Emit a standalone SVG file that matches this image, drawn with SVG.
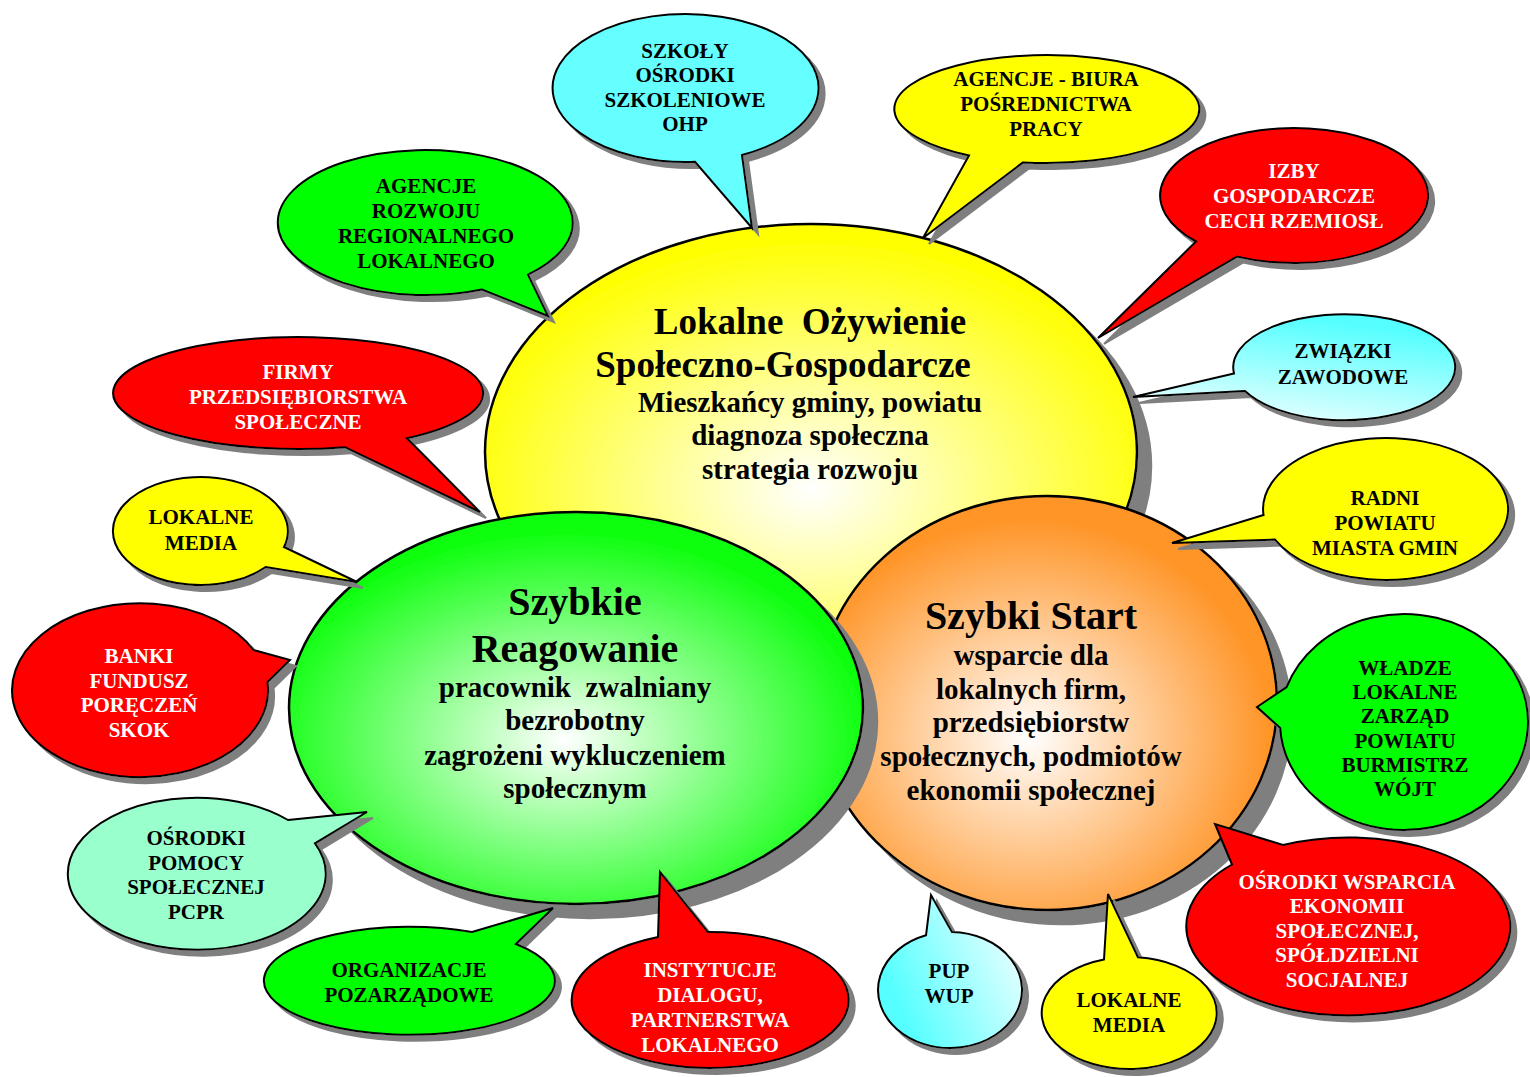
<svg xmlns="http://www.w3.org/2000/svg" width="1530" height="1077" viewBox="0 0 1530 1077">
<defs>
  <filter id="shs" x="-10%" y="-10%" width="130%" height="130%">
    <feFlood flood-color="#7f7f7f"/>
    <feComposite in2="SourceAlpha" operator="in"/>
    <feOffset dx="6" dy="6" result="s"/>
    <feMerge><feMergeNode in="s"/><feMergeNode in="SourceGraphic"/></feMerge>
  </filter>
  <filter id="shb" x="-10%" y="-10%" width="130%" height="130%">
    <feFlood flood-color="#7f7f7f"/>
    <feComposite in2="SourceAlpha" operator="in"/>
    <feOffset dx="14" dy="14" result="s"/>
    <feMerge><feMergeNode in="s"/><feMergeNode in="SourceGraphic"/></feMerge>
  </filter>
  <radialGradient id="gy" cx="0.5" cy="0.58" r="0.55">
    <stop offset="0" stop-color="#ffffff"/><stop offset="1" stop-color="#ffff00"/>
  </radialGradient>
  <radialGradient id="gg" cx="0.48" cy="0.58" r="0.55">
    <stop offset="0" stop-color="#ffffff"/><stop offset="0.95" stop-color="#11ff11"/>
  </radialGradient>
  <radialGradient id="go" cx="0.46" cy="0.58" r="0.55">
    <stop offset="0" stop-color="#ffffff"/><stop offset="0.95" stop-color="#ff9528"/>
  </radialGradient>
  <linearGradient id="gc1" x1="0.7" y1="0.1" x2="0.35" y2="1">
    <stop offset="0" stop-color="#55ffff"/><stop offset="1" stop-color="#e8ffff"/>
  </linearGradient>
  <linearGradient id="gc2" x1="0.1" y1="0.65" x2="0.95" y2="0.25">
    <stop offset="0" stop-color="#55ffff"/><stop offset="1" stop-color="#e8ffff"/>
  </linearGradient>
</defs>
<style>
  .big { stroke: #000; stroke-width: 2.5; filter: url(#shb); }
  .b { stroke: #000; stroke-width: 2; filter: url(#shs); }
  .red { fill: #ff0000; }
  .yel { fill: #ffff00; }
  .grn { fill: #00ff00; }
  .cyn { fill: #66ffff; }
  .mnt { fill: #99ffcc; }
  text { font-family: "Liberation Serif", "Times New Roman", serif; font-weight: bold; text-anchor: middle; fill: #000; }
  .t { font-size: 21px; }
  .w { fill: #ffffff; }
  .h1 { font-size: 37px; }
  .h2 { font-size: 40px; }
  .s { font-size: 29px; }
</style>
<rect width="1530" height="1077" fill="#ffffff"/>

<g id="center-lokalne-ozywienie">
  <ellipse class="big" cx="811" cy="452" rx="326" ry="228" fill="url(#gy)"/>
  <text class="h1" x="810" y="334" xml:space="preserve">Lokalne  Ożywienie</text>
  <text class="h1" x="783" y="377">Społeczno-Gospodarcze</text>
  <text class="s" x="810" y="412">Mieszkańcy gminy, powiatu</text>
  <text class="s" x="810" y="445">diagnoza społeczna</text>
  <text class="s" x="810" y="479">strategia rozwoju</text>
</g>

<g id="center-szybki-start">
  <ellipse class="big" cx="1047" cy="703" rx="230" ry="207" fill="url(#go)"/>
  <text class="h2" x="1031" y="629">Szybki Start</text>
  <text class="s" x="1031" y="665">wsparcie dla</text>
  <text class="s" x="1031" y="699">lokalnych firm,</text>
  <text class="s" x="1031" y="732">przedsiębiorstw</text>
  <text class="s" x="1031" y="766">społecznych, podmiotów</text>
  <text class="s" x="1031" y="800">ekonomii społecznej</text>
</g>

<g id="center-szybkie-reagowanie">
  <ellipse class="big" cx="576" cy="708" rx="287" ry="196" fill="url(#gg)"/>
  <text class="h2" x="575" y="615">Szybkie</text>
  <text class="h2" x="575" y="662">Reagowanie</text>
  <text class="s" x="575" y="697" xml:space="preserve">pracownik  zwalniany</text>
  <text class="s" x="575" y="730">bezrobotny</text>
  <text class="s" x="575" y="765">zagrożeni wykluczeniem</text>
  <text class="s" x="575" y="798">społecznym</text>
</g>

<g id="bubble-szkoly">
  <path class="b cyn" d="M742,155 L752,228 L695,161.8 A133,74 0 1 1 742,155 Z"/>
  <text class="t" x="685" y="58">SZKOŁY</text>
  <text class="t" x="685" y="82">OŚRODKI</text>
  <text class="t" x="685" y="107">SZKOLENIOWE</text>
  <text class="t" x="685" y="131">OHP</text>
</g>

<g id="bubble-agencje-biura">
  <path class="b yel" d="M1023,162.4 L923,238 L969,155.5 A152.5,54 0 1 1 1023,162.4 Z"/>
  <text class="t" x="1046" y="86">AGENCJE - BIURA</text>
  <text class="t" x="1046" y="111">POŚREDNICTWA</text>
  <text class="t" x="1046" y="136">PRACY</text>
</g>

<g id="bubble-izby">
  <path class="b red" d="M1237,256.6 L1098,338 L1196,241.5 A134,67.5 0 1 1 1237,256.6 Z"/>
  <text class="t w" x="1294" y="178">IZBY</text>
  <text class="t w" x="1294" y="203">GOSPODARCZE</text>
  <text class="t w" x="1294" y="228">CECH RZEMIOSŁ</text>
</g>

<g id="bubble-zwiazki">
  <path class="b" fill="url(#gc1)" d="M1245,391 L1133,397 L1234,373.5 A111,53 0 1 1 1245,391 Z"/>
  <text class="t" x="1343" y="358">ZWIĄZKI</text>
  <text class="t" x="1343" y="384">ZAWODOWE</text>
</g>

<g id="bubble-radni">
  <path class="b yel" d="M1275,539.6 L1172,543 L1263.5,515 A122.5,71 0 1 1 1275,539.6 Z"/>
  <text class="t" x="1385" y="505">RADNI</text>
  <text class="t" x="1385" y="530">POWIATU</text>
  <text class="t" x="1385" y="555">MIASTA GMIN</text>
</g>

<g id="bubble-wladze">
  <path class="b grn" d="M1280.2,728 L1257,707 L1286.7,687 A124,108 0 1 1 1280.2,728 Z"/>
  <text class="t" x="1405" y="675">WŁADZE</text>
  <text class="t" x="1405" y="699">LOKALNE</text>
  <text class="t" x="1405" y="723">ZARZĄD</text>
  <text class="t" x="1405" y="748">POWIATU</text>
  <text class="t" x="1405" y="772">BURMISTRZ</text>
  <text class="t" x="1405" y="796">WÓJT</text>
</g>

<g id="bubble-osrodki-wsparcia">
  <path class="b red" d="M1232,864.5 L1215,824 L1283,845 A162,89 0 1 1 1232,864.5 Z"/>
  <text class="t w" x="1347" y="889">OŚRODKI WSPARCIA</text>
  <text class="t w" x="1347" y="913">EKONOMII</text>
  <text class="t w" x="1347" y="938">SPOŁECZNEJ,</text>
  <text class="t w" x="1347" y="962">SPÓŁDZIELNI</text>
  <text class="t w" x="1347" y="987">SOCJALNEJ</text>
</g>

<g id="bubble-lokalne-media-bottom">
  <path class="b yel" d="M1104,959.4 L1108,894 L1138,957.3 A87.5,56 0 1 1 1104,959.4 Z"/>
  <text class="t" x="1129" y="1007">LOKALNE</text>
  <text class="t" x="1129" y="1032">MEDIA</text>
</g>

<g id="bubble-pup">
  <path class="b" fill="url(#gc2)" d="M926,935.3 L931,895 L952,932 A72,58 0 1 1 926,935.3 Z"/>
  <text class="t" x="949" y="978">PUP</text>
  <text class="t" x="949" y="1003">WUP</text>
</g>

<g id="bubble-instytucje">
  <path class="b red" d="M658,937 L660,872 L708,932 A138.5,68 0 1 1 658,937 Z"/>
  <text class="t w" x="710" y="977">INSTYTUCJE</text>
  <text class="t w" x="710" y="1002">DIALOGU,</text>
  <text class="t w" x="710" y="1027">PARTNERSTWA</text>
  <text class="t w" x="710" y="1052">LOKALNEGO</text>
</g>

<g id="bubble-organizacje">
  <path class="b grn" d="M472,932 L553,908 L516,944 A145.5,54 0 1 1 472,932 Z"/>
  <text class="t" x="409" y="977">ORGANIZACJE</text>
  <text class="t" x="409" y="1002">POZARZĄDOWE</text>
</g>

<g id="bubble-osrodki-pomocy">
  <path class="b mnt" d="M288,820 L367,812 L315,843.3 A129,76 0 1 1 288,820 Z"/>
  <text class="t" x="196" y="845">OŚRODKI</text>
  <text class="t" x="196" y="870">POMOCY</text>
  <text class="t" x="196" y="894">SPOŁECZNEJ</text>
  <text class="t" x="196" y="919">PCPR</text>
</g>

<g id="bubble-banki">
  <path class="b red" d="M253.6,650 L290,660 L267.5,682 A128,87 0 1 1 253.6,650 Z"/>
  <text class="t w" x="139" y="663">BANKI</text>
  <text class="t w" x="139" y="688">FUNDUSZ</text>
  <text class="t w" x="139" y="712">PORĘCZEŃ</text>
  <text class="t w" x="139" y="737">SKOK</text>
</g>

<g id="bubble-lokalne-media-left">
  <path class="b yel" d="M284,547 L357,582 L265.7,567 A87.5,54 0 1 1 284,547 Z"/>
  <text class="t" x="201" y="524">LOKALNE</text>
  <text class="t" x="201" y="550">MEDIA</text>
</g>

<g id="bubble-firmy">
  <path class="b red" d="M407,438.3 L480,512 L345,447.2 A185,56 0 1 1 407,438.3 Z"/>
  <text class="t w" x="298" y="379">FIRMY</text>
  <text class="t w" x="298" y="404">PRZEDSIĘBIORSTWA</text>
  <text class="t w" x="298" y="429">SPOŁECZNE</text>
</g>

<g id="bubble-agencje-rozwoju">
  <path class="b grn" d="M528,274.6 L548,316 L482,289.5 A147.5,72.5 0 1 1 528,274.6 Z"/>
  <text class="t" x="426" y="193">AGENCJE</text>
  <text class="t" x="426" y="218">ROZWOJU</text>
  <text class="t" x="426" y="243">REGIONALNEGO</text>
  <text class="t" x="426" y="268">LOKALNEGO</text>
</g>
</svg>
